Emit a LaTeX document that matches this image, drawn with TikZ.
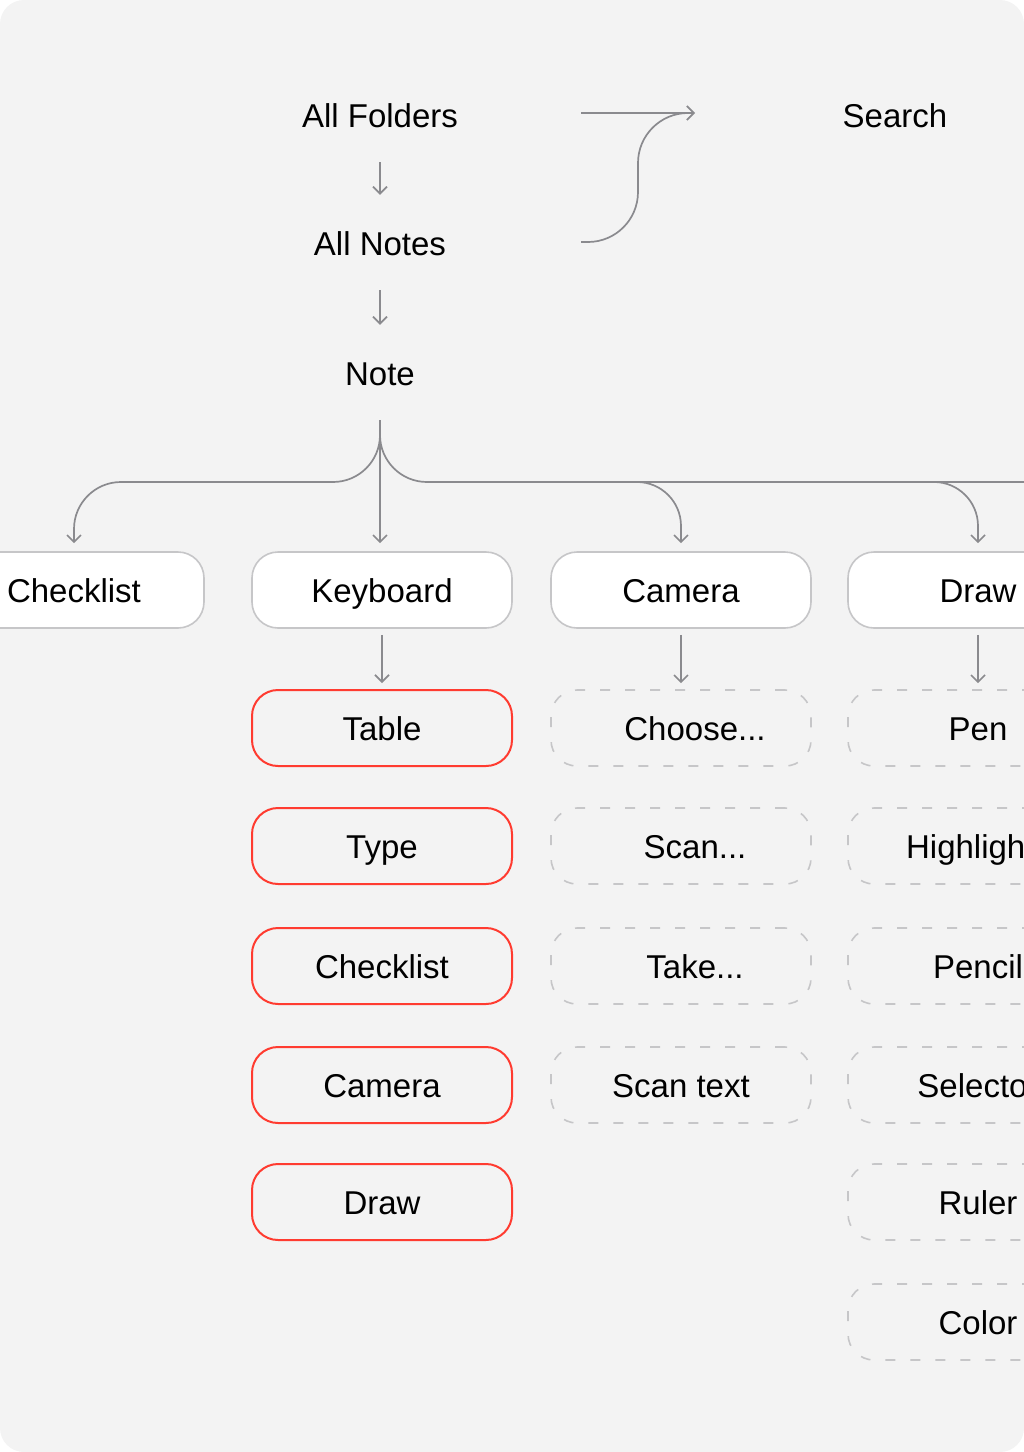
\documentclass[tikz,border=0pt]{standalone}
\usepackage{fontspec}
\setmainfont{Liberation Sans}
\usetikzlibrary{arrows.meta,positioning}

\definecolor{bggray}{HTML}{F3F3F3}
\definecolor{wiregray}{HTML}{8A8A8E}
\definecolor{boxgray}{HTML}{C6C6C8}
\definecolor{menured}{HTML}{FF3B30}
\newcommand{\diagfont}{\fontsize{33}{39}\selectfont}

\tikzset{
  txt/.style={inner sep=0pt, text height=24pt, text depth=0pt, font=\diagfont},
  wire/.style={draw=wiregray, line width=1.7pt},
  flow/.style={wire, -{Straight Barb[length=7pt,width=14pt]}},
  menu/.style={txt, rectangle, rounded corners=26pt, minimum width=260pt, minimum height=76pt, line width=1.6pt},
  mode/.style={menu, draw=boxgray, fill=white},
  tool/.style={menu, draw=menured, line width=2pt},
  option/.style={menu, draw=boxgray, dash pattern=on 10pt off 15pt},
  shifted/.style={execute at begin node={\hspace*{28pt}}}
}

\begin{document}
\begin{tikzpicture}[x=1pt,y=-1pt]
\useasboundingbox (0,0) rectangle (1024,1452);
\fill[bggray, rounded corners=24pt] (0,0) rectangle (1024,1452);
\clip[rounded corners=24pt] (0,0) rectangle (1024,1452);

% top of the tree
\node[txt] (folders) at (380,115) {All Folders};
\node[txt] (notes) at (380,243) {All Notes};
\node[txt] (note) at (380,373) {Note};
\node[txt] (search) at (895,115) {Search};
\draw[flow, shorten <=35pt, shorten >=36pt] (folders) -- (notes);
\draw[flow, shorten <=35pt, shorten >=36pt] (notes) -- (note);

% both lists lead to search
\coordinate (fromfolders) at (581,113);
\coordinate (fromnotes) at (581,242);
\coordinate (tosearch) at (695,113);
\draw[flow] (fromfolders) -- (tosearch);
\draw[wire, rounded corners=50pt] (fromnotes) -| (tosearch -| 638,0) -- ([xshift=-40pt]tosearch);

% input modes
\node[mode] (checklist) at (74,590) {Checklist};
\node[mode] (keyboard) at (382,590) {Keyboard};
\node[mode] (camera) at (681,590) {Camera};
\node[mode] (draw) at (978,590) {Draw};

\coordinate (bus) at (0,482);
\coordinate (busend) at (1040,482);
\draw[flow, rounded corners=47pt, shorten <=35pt, shorten >=8pt] (note.south) |- (bus -| checklist) -- (checklist.north);
\draw[wire, rounded corners=47pt, shorten <=35pt] (note.south) |- (busend);
\draw[flow, shorten <=35pt, shorten >=8pt] (note.south) -- (note.south |- keyboard.north);
\draw[flow, rounded corners=44pt, shorten >=8pt] ([xshift=-60pt]bus -| camera) -| (camera.north);
\draw[flow, rounded corners=44pt, shorten >=8pt] ([xshift=-60pt]bus -| draw) -| (draw.north);

% keyboard tools
\node[tool] (table) at (382,728) {Table};
\node[tool] (type) at (382,846) {Type};
\node[tool] (checkbox) at (382,966) {Checklist};
\node[tool] (photo) at (382,1085) {Camera};
\node[tool] (sketch) at (382,1202) {Draw};
\draw[flow, shorten <=6pt, shorten >=6pt] (keyboard) -- (table);

% camera options
\node[option, shifted] (choose) at (681,728) {Choose...};
\node[option, shifted] (scan) at (681,846) {Scan...};
\node[option, shifted] (take) at (681,966) {Take...};
\node[option] (scantext) at (681,1085) {Scan text};
\draw[flow, shorten <=6pt, shorten >=6pt] (camera) -- (choose);

% drawing options
\node[option] (pen) at (978,728) {Pen};
\node[option, execute at begin node={\hspace*{14pt}}] (marker) at (978,846) {Highlighter};
\node[option] (pencil) at (978,966) {Pencil};
\node[option] (selector) at (978,1085) {Selector};
\node[option] (ruler) at (978,1202) {Ruler};
\node[option] (color) at (978,1322) {Color};
\draw[flow, shorten <=6pt, shorten >=6pt] (draw) -- (pen);
\end{tikzpicture}
\end{document}
